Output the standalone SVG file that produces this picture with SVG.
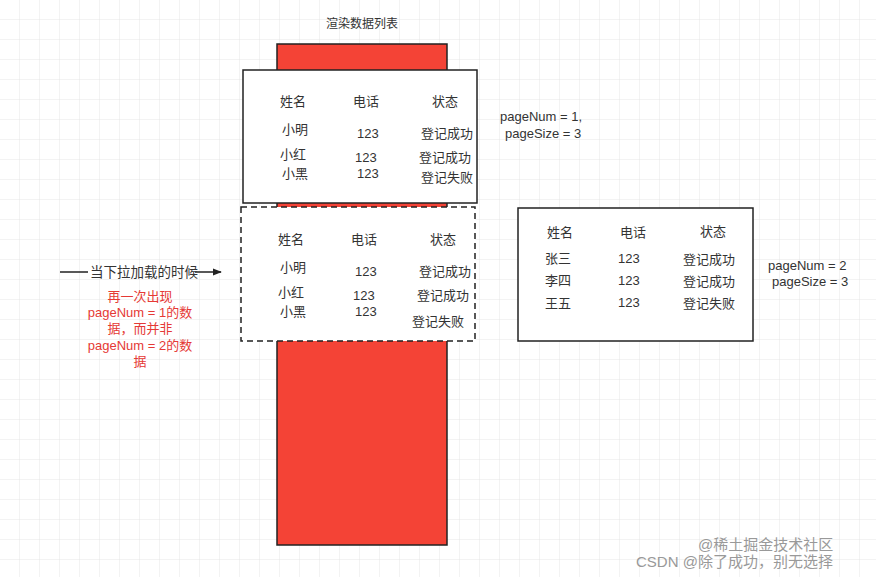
<svg xmlns="http://www.w3.org/2000/svg" width="876" height="577" viewBox="0 0 876 577">
<defs>
<pattern id="g" width="20" height="20" patternUnits="userSpaceOnUse"><path d="M20 0V20H0" fill="none" stroke="#e6e6e6" stroke-width="1"/></pattern>
<marker id="ah" viewBox="0 0 10 10" refX="9" refY="5" markerWidth="9" markerHeight="9" markerUnits="userSpaceOnUse" orient="auto"><path d="M0 1L10 5L0 9Z" fill="#222"/></marker>
<style>
text{font-family:"Liberation Sans","Noto Sans CJK SC",sans-serif;font-size:13px;fill:#333}
.b{fill:#fff;stroke:#222;stroke-width:1.5}
.r{fill:#f44336;stroke:#222;stroke-width:1.5}
.red{fill:#e53935;text-anchor:middle}
.wm{fill:#999;font-size:15px}
</style>
</defs>
<rect width="876" height="577" fill="#fff"/>
<rect width="876" height="577" fill="url(#g)"/>
<text x="362" y="28" text-anchor="middle" style="font-size:12px">渲染数据列表</text>
<g id="redbar"><rect class="r" x="277" y="44" width="170" height="501"/></g>
<g id="table1"><rect class="b" x="243" y="70" width="234" height="133"/>
<text x="280" y="106">姓名</text><text x="353" y="106">电话</text><text x="432" y="106">状态</text>
<text x="282" y="134">小明</text><text x="357" y="138">123</text><text x="421" y="138">登记成功</text>
<text x="280" y="159">小红</text><text x="355" y="162">123</text><text x="419" y="162">登记成功</text>
<text x="282" y="178">小黑</text><text x="357" y="178">123</text><text x="421" y="182">登记失败</text></g>
<g id="label1"><text x="500" y="121">pageNum = 1,</text><text x="505" y="138">pageSize = 3</text></g>
<g id="table2"><rect x="241" y="207" width="234" height="134" fill="#fff" stroke="#222" stroke-width="1.5" stroke-dasharray="6,4"/>
<text x="278" y="244">姓名</text><text x="351" y="244">电话</text><text x="430" y="244">状态</text>
<text x="280" y="272">小明</text><text x="355" y="276">123</text><text x="419" y="276">登记成功</text>
<text x="278" y="297">小红</text><text x="353" y="300">123</text><text x="417" y="300">登记成功</text>
<text x="280" y="316">小黑</text><text x="355" y="316">123</text><text x="412" y="326">登记失败</text></g>
<g id="table3"><rect class="b" x="518" y="208" width="235" height="133"/>
<text x="547" y="237">姓名</text><text x="620" y="237">电话</text><text x="700" y="236">状态</text>
<text x="545" y="263">张三</text><text x="618" y="263">123</text><text x="683" y="264">登记成功</text>
<text x="545" y="285">李四</text><text x="618" y="285">123</text><text x="683" y="286">登记成功</text>
<text x="545" y="308">王五</text><text x="618" y="307">123</text><text x="683" y="308">登记失败</text></g>
<g id="label2"><text x="768" y="270">pageNum = 2</text><text x="772" y="286">pageSize = 3</text></g>
<g id="connectors"><line x1="60" y1="272" x2="88" y2="272" stroke="#222" stroke-width="1.5"/><line x1="195" y1="272" x2="221" y2="272" stroke="#222" stroke-width="1.5" marker-end="url(#ah)"/></g>
<text x="90" y="277" style="font-size:13.5px">当下拉加载的时候</text>
<g id="note"><text class="red" x="140" y="301">再一次出现</text><text class="red" x="140" y="317">pageNum = 1的数</text><text class="red" x="140" y="333">据，而并非</text><text class="red" x="140" y="350">pageNum = 2的数</text><text class="red" x="140" y="366">据</text></g>
<text class="wm" x="698" y="550">@稀土掘金技术社区</text>
<text class="wm" x="636" y="567">CSDN @除了成功，别无选择</text>
</svg>
